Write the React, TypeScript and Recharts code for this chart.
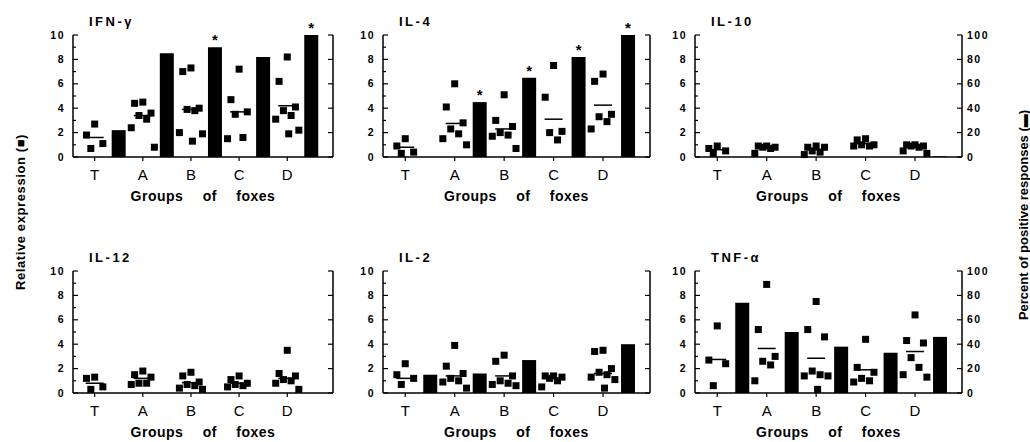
import { ComposedChart, XAxis, YAxis, Bar, Scatter, LabelList } from "recharts";

const GROUPS = ["T", "A", "B", "C", "D"];

// relative expression per fox, one list per group (T, A, B, C, D)
const ifnPoints = [
  [2.7, 1.8, 1.1, 0.7],
  [4.5, 4.4, 3.6, 3.4, 3.1, 2.4, 0.8],
  [7.3, 7.0, 4.0, 3.9, 3.8, 2.0, 1.9, 1.3],
  [7.2, 4.7, 3.7, 3.5, 1.6, 1.5],
  [8.2, 6.2, 4.1, 3.8, 3.4, 3.1, 2.2, 1.9],
];
const ifnMeans = [1.6, 3.4, 3.9, 3.7, 4.2];
const ifnBars = [22, 85, 90, 82, 100];
const ifnStars = [false, false, true, false, true];

const il4Points = [
  [1.5, 0.9, 0.4, 0.3],
  [6.0, 4.1, 2.8, 2.3, 1.9, 1.5, 1.0],
  [5.1, 3.0, 2.5, 2.0, 1.8, 1.7, 0.7],
  [7.5, 4.9, 2.1, 2.0, 1.4],
  [6.8, 6.2, 3.5, 3.3, 2.9, 2.3],
];
const il4Means = [0.8, 2.75, 2.3, 3.1, 4.25];
const il4Bars = [0, 45, 65, 82, 100];
const il4Stars = [false, true, true, true, true];

const il10Points = [
  [0.9, 0.7, 0.5, 0.3],
  [0.9, 0.9, 0.8, 0.8, 0.7, 0.3],
  [0.9, 0.8, 0.8, 0.5, 0.4, 0.2],
  [1.5, 1.4, 1.0, 1.0, 0.9, 0.9],
  [1.0, 1.0, 0.9, 0.9, 0.8, 0.5, 0.3],
];
const il10Means = [0.6, 0.75, 0.6, 1.1, 0.8];
const il10Bars = [0, 0, 0, 0, 0.5];
const il10Stars = [false, false, false, false, false];

const il12Points = [
  [1.3, 1.2, 0.5, 0.3],
  [1.8, 1.5, 1.3, 0.8, 0.8, 0.7],
  [1.7, 1.4, 0.9, 0.7, 0.6, 0.4, 0.3],
  [1.4, 1.1, 0.8, 0.7, 0.6, 0.5],
  [3.5, 1.6, 1.4, 1.1, 1.0, 0.8, 0.3],
];
const il12Means = [0.8, 1.2, 0.85, 0.8, 1.2];
const il12Bars = [0, 0, 0, 0, 0];
const il12Stars = [false, false, false, false, false];

const il2Points = [
  [2.4, 1.5, 1.2, 0.7],
  [3.9, 2.2, 1.6, 1.2, 1.0, 0.9, 0.4],
  [3.1, 2.6, 1.4, 1.0, 0.8, 0.7, 0.6],
  [1.4, 1.4, 1.3, 1.2, 1.0, 0.5],
  [3.5, 3.4, 2.0, 1.7, 1.5, 1.3, 1.1, 0.4],
];
const il2Means = [1.2, 1.4, 1.4, 1.2, 1.6];
const il2Bars = [15, 16, 27, 0, 40];
const il2Stars = [false, false, false, false, false];

const tnfPoints = [
  [5.5, 2.7, 2.4, 0.6],
  [8.9, 5.2, 3.0, 2.6, 2.3, 1.0],
  [7.5, 5.2, 4.6, 1.8, 1.5, 1.4, 1.4, 0.3],
  [4.4, 2.1, 1.7, 1.2, 1.0, 0.9],
  [6.4, 4.3, 4.1, 2.9, 2.1, 1.5, 1.3],
];
const tnfMeans = [2.75, 3.65, 2.85, 1.9, 3.4];
const tnfBars = [74, 50, 38, 33, 46];
const tnfStars = [false, false, false, false, false];

const FONT = '"Liberation Sans", Arial, Helvetica, sans-serif';
const JITTER = [0, -0.17, 0.17, -0.08, 0.08, -0.24, 0.24, 0.03];
const X_DOMAIN = [0.55, 5.95];
const AXW = 32;
const TOPM = 30;
const PLOT_H = 122;
const XH = 34;

const panels = [
  { title: "IFN-γ", points: ifnPoints, means: ifnMeans, bars: ifnBars, stars: ifnStars, rightLabels: false, left: 73, top: 35, w: 260 },
  { title: "IL-4", points: il4Points, means: il4Means, bars: il4Bars, stars: il4Stars, rightLabels: false, left: 383, top: 35, w: 267 },
  { title: "IL-10", points: il10Points, means: il10Means, bars: il10Bars, stars: il10Stars, rightLabels: true, left: 695, top: 35, w: 267 },
  { title: "IL-12", points: il12Points, means: il12Means, bars: il12Bars, stars: il12Stars, rightLabels: false, left: 73, top: 271, w: 260 },
  { title: "IL-2", points: il2Points, means: il2Means, bars: il2Bars, stars: il2Stars, rightLabels: false, left: 383, top: 271, w: 267 },
  { title: "TNF-α", points: tnfPoints, means: tnfMeans, bars: tnfBars, stars: tnfStars, rightLabels: true, left: 695, top: 271, w: 267 },
];

function Square(props: any) {
  const { cx, cy } = props;
  return <rect x={cx - 3.5} y={cy - 3.5} width={7} height={7} fill="#000" />;
}

function MeanLine(props: any) {
  const { cx, cy } = props;
  return <line x1={cx - 9} x2={cx + 9} y1={cy} y2={cy} stroke="#000" strokeWidth={1.5} />;
}

function LeftTick(props: any) {
  const { x, y, payload } = props;
  const v = payload.value;
  const major = v % 2 === 0;
  const ax = x + 8;
  return (
    <g>
      <line x1={ax} x2={ax + (major ? 5 : 3)} y1={y} y2={y} stroke="#000" strokeWidth={1.2} />
      {major && (
        <text x={x} y={y} dy="0.35em" textAnchor="end" fontFamily={FONT} fontWeight="bold" fontSize={10.5} letterSpacing={1.5} fill="#000">
          {v}
        </text>
      )}
    </g>
  );
}

function makeRightTick(showLabels: boolean) {
  return (props: any) => {
    const { x, y, payload } = props;
    const ax = x - 4;
    return (
      <g>
        <line x1={ax} x2={ax - 5} y1={y} y2={y} stroke="#000" strokeWidth={1.2} />
        {showLabels && (
          <text x={x + 1} y={y} dy="0.35em" textAnchor="start" fontFamily={FONT} fontWeight="bold" fontSize={10.5} letterSpacing={1.5} fill="#000">
            {payload.value}
          </text>
        )}
      </g>
    );
  };
}

function Panel({ p }: { p: any }) {
  const barData = p.bars.map((pct: number, i: number) => ({ x: i + 1.5, pct, star: p.stars[i] ? "*" : "" }));
  const pointData = p.points.flatMap((vals: number[], g: number) =>
    vals.map((v, i) => ({ x: g + 1 + JITTER[i % JITTER.length], v }))
  );
  const meanData = p.means.map((m: number, g: number) => ({ x: g + 1, v: m }));
  const axis = { stroke: "#000", strokeWidth: 1.5 };
  return (
    <div style={{ position: "absolute", left: p.left - AXW, top: p.top - TOPM }}>
      <ComposedChart
        width={AXW + p.w + AXW}
        height={TOPM + PLOT_H + XH}
        data={barData}
        margin={{ top: TOPM, right: 0, bottom: 0, left: 0 }}
      >
        <XAxis
          dataKey="x"
          type="number"
          domain={X_DOMAIN}
          ticks={[1, 2, 3, 4, 5]}
          interval={0}
          allowDataOverflow
          tickFormatter={(v: number) => GROUPS[v - 1]}
          height={XH}
          axisLine={axis}
          tickLine={{ stroke: "#000", strokeWidth: 1.2 }}
          tickSize={4}
          tickMargin={8}
          tick={{ fill: "#000", fontSize: 15, fontFamily: FONT }}
        />
        <XAxis xAxisId="pts" dataKey="x" type="number" domain={X_DOMAIN} allowDataOverflow hide />
        <YAxis
          yAxisId="left"
          domain={[0, 10]}
          ticks={[0, 1, 2, 3, 4, 5, 6, 7, 8, 9, 10]}
          interval={0}
          width={AXW}
          axisLine={axis}
          tickLine={false}
          tickSize={0}
          tickMargin={8}
          tick={(t: any) => <LeftTick {...t} />}
        />
        <YAxis
          yAxisId="right"
          orientation="right"
          domain={[0, 100]}
          ticks={[0, 20, 40, 60, 80, 100]}
          interval={0}
          width={AXW}
          axisLine={axis}
          tickLine={false}
          tickSize={0}
          tickMargin={4}
          tick={makeRightTick(p.rightLabels)}
        />
        <Bar yAxisId="right" dataKey="pct" fill="#000" barSize={14} isAnimationActive={false}>
          <LabelList dataKey="star" position="top" offset={2} fill="#000" fontSize={15} fontWeight="bold" fontFamily={FONT} />
        </Bar>
        <Scatter xAxisId="pts" yAxisId="left" data={pointData} dataKey="v" shape={Square} isAnimationActive={false} />
        <Scatter xAxisId="pts" yAxisId="left" data={meanData} dataKey="v" shape={MeanLine} isAnimationActive={false} />
      </ComposedChart>
    </div>
  );
}

export default function App() {
  return (
    <div style={{ position: "absolute", left: 0, top: 0, width: 1030, height: 442, background: "#fff", fontFamily: FONT }}>
      {panels.map((p) => (
        <Panel key={p.title} p={p} />
      ))}
      <svg width={1030} height={442} style={{ position: "absolute", left: 0, top: 0, pointerEvents: "none" }}>
        {panels.map((p) => (
          <g key={p.title}>
            <text x={p.left + 16} y={p.top - 9} fontFamily={FONT} fontWeight="bold" fontSize={13} letterSpacing={2.5} fill="#000">
              {p.title}
            </text>
            <text
              x={p.left + p.w / 2}
              y={p.top + PLOT_H + 44}
              textAnchor="middle"
              fontFamily={FONT}
              fontWeight="bold"
              fontSize={14}
              letterSpacing={0.5}
              wordSpacing={15}
              fill="#000"
            >
              Groups of foxes
            </text>
          </g>
        ))}
        <text
          transform="translate(20 212) rotate(-90)"
          textAnchor="middle"
          dominantBaseline="central"
          fontFamily={FONT}
          fontWeight="bold"
          fontSize={13}
          letterSpacing={0.6}
          fill="#000"
        >
          Relative expression (■)
        </text>
        <text
          transform="translate(1023 215) rotate(-90)"
          textAnchor="middle"
          dominantBaseline="central"
          fontFamily={FONT}
          fontWeight="bold"
          fontSize={13}
          fill="#000"
        >
          Percent of positive responses (▬)
        </text>
      </svg>
    </div>
  );
}
